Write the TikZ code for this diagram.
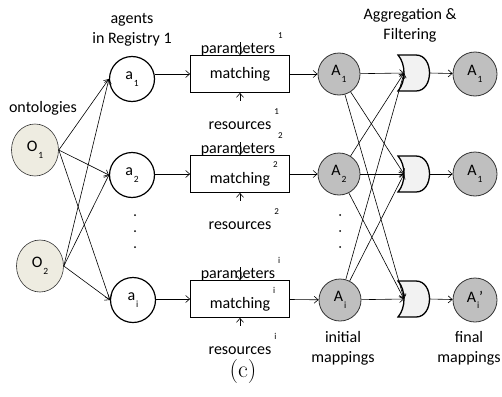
\documentclass[tikz,border=0pt]{standalone}
\usepackage{fontspec}
\newfontfamily\calibri{Carlito}
\usetikzlibrary{shapes.geometric,arrows.meta}
\definecolor{ontofill}{RGB}{238,236,225}
\definecolor{mapfill}{RGB}{191,191,191}
\definecolor{gatefill}{RGB}{242,242,242}
\newcommand{\supidx}[1]{\rlap{\hspace{3pt}\raisebox{0.95em}{\fontsize{9}{9}\selectfont #1}}}
\newcommand{\subidx}[1]{\hspace{1pt}\raisebox{-0.4em}{\fontsize{9.5}{9.5}\selectfont #1}}

\begin{document}
\begin{tikzpicture}[
    x=1pt,
    y=-1pt,
    line width=0.6pt,
    font=\calibri\fontsize{16}{20}\selectfont,
    >={Straight Barb[length=4pt,width=7pt]},
    onto/.style={draw=black!80, ellipse, fill=ontofill, minimum width=47pt, minimum height=52pt, inner sep=0pt},
    agent/.style={draw, circle, line width=1.2pt, minimum size=45pt, inner sep=0pt},
    mapping/.style={draw=black!80, circle, fill=mapfill, line width=0.8pt, minimum size=42pt, inner sep=0pt},
    matchbox/.style={draw, line width=0.8pt, minimum width=99pt, minimum height=37pt, inner sep=0pt},
    gate/.style={draw, line width=1.3pt, fill=gatefill},
  ]
  \useasboundingbox (0,0) rectangle (502,396);
  \node[onto] (O1) at (35,150) {O\subidx{1}};
  \node[onto] (O2) at (40,266) {O\subidx{2}};
  \node[agent] (a1) at (132,79) {a\subidx{1}};
  \node[agent] (a2) at (132,175) {a\subidx{2}};
  \node[agent] (ai) at (133,300) {a\subidx{i}};
  \node[matchbox] (m1) at (240,74) {matching};
  \node[matchbox] (m2) at (240,174) {matching\supidx{2}};
  \node[matchbox] (m3) at (240,299) {matching\supidx{i}};
  \node[mapping] (A1) at (339,74) {A\subidx{1}};
  \node[mapping] (A2) at (339,174) {A\subidx{2}};
  \node[mapping] (Ai) at (340,300) {A\subidx{i}};
  \node[mapping, minimum size=44pt] (F1) at (475,74) {A\subidx{1}};
  \node[mapping, minimum size=44pt] (F2) at (475,174) {A\subidx{1}};
  \node[mapping, minimum size=44pt] (Fi) at (475,300) {A\subidx{i}’};
  \foreach \k/\y/\s in {1/74/1,2/174/2,3/299/i} {
    \node (par\k) at (238,\y-30) {parameters\supidx{\s}};
    \node (res\k) at (240,\y+45) {resources\supidx{\s}};
    \draw[->] ([yshift=13pt]m\k.north) -- (m\k.north);
    \draw[->] ([yshift=-8pt]m\k.south) -- (m\k.south);
  }
  \foreach \k/\y in {1/73,2/174,3/299} {
    \draw[gate] (398,\y-18) -- (416,\y-18) .. controls (434,\y-18) and (434,\y+18) .. (416,\y+18)
      -- (398,\y+18) .. controls (406,\y+9) and (406,\y-9) .. cycle;
    \coordinate (gin\k) at (404,\y);
    \coordinate (gout\k) at (429,\y);
  }
  \foreach \o in {O1,O2} {
    \foreach \a in {a1,a2,ai} {
      \draw[->] (\o.east) -- (\a.west);
    }
  }
  \foreach \a/\k in {a1/1,a2/2,ai/3} {
    \draw[->] (\a.east |- m\k) -- (m\k.west);
  }
  \foreach \k/\A in {1/A1,2/A2,3/Ai} {
    \draw[->] (m\k) -- (\A);
  }
  \foreach \i in {A1,A2,Ai} {
    \foreach \j in {1,2,3} {
      \draw[->] (\i) -- (gin\j);
    }
  }
  \foreach \j/\f in {1/F1,2/F2,3/Fi} {
    \draw[->] (gout\j) -- (\f);
  }
  \foreach \y in {215,231,247} {
    \fill (135,\y) circle (1pt);
    \fill (340,\y) circle (1pt);
  }
  \node[align=center] (agentlbl) at (132,30) {agents\\in Registry 1};
  \node (ontolbl) at (43,108) {ontologies};
  \node[align=center] (agglbl) at (410,25) {Aggregation \&\\Filtering};
  \node[align=center] (initlbl) at (343,348) {initial\\mappings};
  \node[align=center] (finallbl) at (469,348) {final\\mappings};
  \node[font=\fontsize{24}{28}\selectfont] (cap) at (243,372) {(c)};
\end{tikzpicture}
\end{document}
